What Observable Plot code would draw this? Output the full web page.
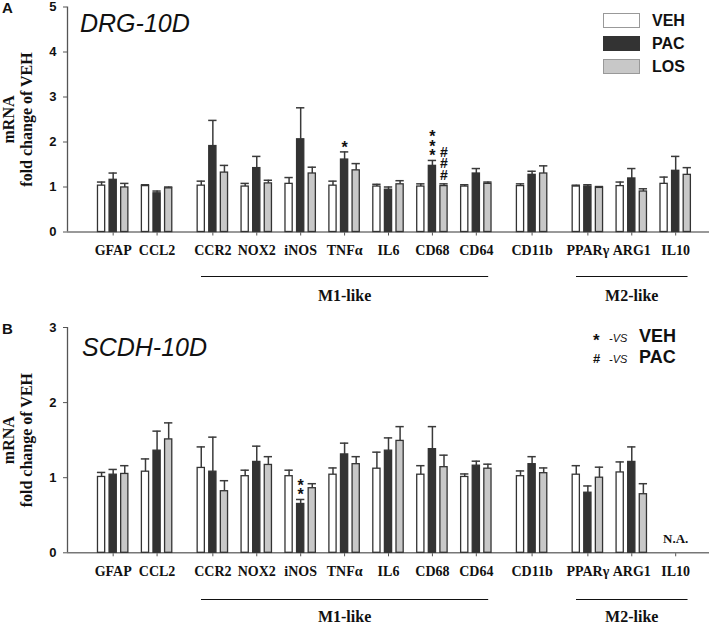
<!DOCTYPE html>
<html><head><meta charset="utf-8">
<script src="https://cdn.jsdelivr.net/npm/d3@7"></script>
<script src="https://cdn.jsdelivr.net/npm/@observablehq/plot@0.6"></script>
<style>
body{margin:0;background:#fff;}
#wrap{position:relative;width:709px;height:624px;font-family:Arial,"Liberation Sans",sans-serif;color:#111;}
#wrap svg{display:block;overflow:visible;}
.abs{position:absolute;white-space:nowrap;}
</style></head><body><div id="wrap"></div>
<script>
// ---------- data ----------
const genes = ["GFAP","CCL2","CCR2","NOX2","iNOS","TNFα","IL6","CD68","CD64","CD11b","PPARγ","ARG1","IL10"];
const geneCluster = [0,0,1,1,1,1,1,1,1,2,3,3,3];
const series = ["VEH","PAC","LOS"];
const seriesColors = ["#ffffff","#333333","#c8c8c8"];

// Panel A: DRG-10D (mean, SEM)
const drgVEH    = [1.03,1.02,1.03,1.01,1.07,1.03,1.01,1.01,1.01,1.02,1.01,1.02,1.07];
const drgVEHerr = [0.08,0.03,0.10,0.07,0.14,0.10,0.05,0.06,0.04,0.05,0.03,0.09,0.15];
const drgPAC    = [1.16,0.86,1.91,1.42,2.06,1.61,0.94,1.47,1.30,1.27,1.01,1.19,1.36];
const drgPACerr = [0.15,0.05,0.57,0.26,0.70,0.17,0.06,0.12,0.11,0.08,0.04,0.22,0.32];
const drgLOS    = [0.99,0.97,1.32,1.08,1.30,1.37,1.06,1.02,1.07,1.30,0.98,0.90,1.27];
const drgLOSerr = [0.09,0.03,0.16,0.07,0.14,0.15,0.08,0.05,0.04,0.17,0.03,0.06,0.16];

// Panel B: SCDH-10D (mean, SEM); IL10 not available
const scdhVEH    = [1.01,1.08,1.13,1.02,1.02,1.04,1.12,1.04,1.01,1.02,1.04,1.07,null];
const scdhVEHerr = [0.06,0.17,0.28,0.08,0.08,0.09,0.22,0.12,0.04,0.07,0.12,0.14,null];
const scdhPAC    = [1.04,1.36,1.08,1.21,0.65,1.31,1.36,1.38,1.16,1.18,0.80,1.21,null];
const scdhPACerr = [0.07,0.26,0.46,0.21,0.06,0.15,0.17,0.30,0.06,0.10,0.09,0.20,null];
const scdhLOS    = [1.05,1.51,0.82,1.17,0.86,1.18,1.49,1.14,1.12,1.06,1.00,0.78,null];
const scdhLOSerr = [0.11,0.22,0.14,0.11,0.06,0.10,0.19,0.16,0.06,0.07,0.14,0.14,null];

const groupsLabels = [
  {name:"M1-like", first:"CCR2", last:"CD64"},
  {name:"M2-like", first:"PPARγ", last:"IL10"}
];
const sigA = [
  {gene:"TNFα", series:"PAC", mark:"*", n:1},
  {gene:"CD68", series:"PAC", mark:"*", n:3},
  {gene:"CD68", series:"LOS", mark:"#", n:3}
];
const sigB = [
  {gene:"iNOS", series:"PAC", mark:"*", n:2}
];
const naB = ["IL10"];

// ---------- layout ----------
const clusterGap = 0.27;
const barOffset = [-0.264, 0, 0.264];
const barHalf = 0.082, capHalf = 0.095;
const xDomain = [-1.04, 13.58];
const pos = i => i + clusterGap * geneCluster[i];
const gpos = g => pos(genes.indexOf(g));
const starStep = 9.6, hashStep = 11.5;

function panel(cfg){
  const rows = [];
  genes.forEach((g,i)=>{
    series.forEach((s,k)=>{
      const m = cfg.means[k][i];
      if (m == null) return;
      rows.push({gene:g, s, x: pos(i)+barOffset[k], mean:m, top:m+cfg.errs[k][i]});
    });
  });
  const topOf = (g,s) => rows.find(r=>r.gene===g && r.s===s);
  const sigRows = [];
  cfg.sig.forEach(d=>{
    const r = topOf(d.gene,d.series);
    for (let j=0;j<d.n;j++) sigRows.push({x:r.x, y:r.top, mark:d.mark, j});
  });
  const ticksX = genes.map((g,i)=>pos(i));
  const labelOf = new Map(genes.map((g,i)=>[pos(i), g]));
  const stars = sigRows.filter(d=>d.mark==="*");
  const hashes = sigRows.filter(d=>d.mark==="#");
  return Plot.plot({
    width:709, height:cfg.height, marginLeft:67, marginRight:0, marginTop:cfg.mt, marginBottom:cfg.mb,
    x:{type:"linear", domain:xDomain},
    y:{domain:[0,cfg.yMax]},
    color:{domain:series, range:seriesColors},
    style:{fontFamily:"Arial, 'Liberation Sans', sans-serif", color:"#111", background:"transparent", overflow:"visible"},
    marks:[
      Plot.axisY({ticks:d3.range(cfg.yMax+1), tickFormat:"d", tickSize:4, tickPadding:7, fontSize:13, fontWeight:"bold", label:null, stroke:"#555"}),
      Plot.axisX({ticks:ticksX, tickFormat:d=>labelOf.get(d), tickSize:4, tickPadding:9, fontSize:14, fontWeight:"bold", fontFamily:"'Liberation Serif', serif", label:null, stroke:"#555"}),
      Plot.ruleX([xDomain[0]], {stroke:"#555", strokeWidth:1.3}),
      Plot.ruleY([0], {stroke:"#777", strokeWidth:1.5}),
      Plot.ruleX(rows, {x:"x", y1:"mean", y2:"top", stroke:"#3a3a3a", strokeWidth:1.5}),
      Plot.ruleY(rows, {y:"top", x1:d=>d.x-capHalf, x2:d=>d.x+capHalf, stroke:"#3a3a3a", strokeWidth:1.5}),
      Plot.rect(rows, {x1:d=>d.x-barHalf, x2:d=>d.x+barHalf, y1:0, y2:"mean", fill:"s", stroke:"#333", strokeWidth:1.3}),
      ...stars.map(d=>Plot.text([d], {x:"x", y:"y", text:"mark", lineAnchor:"bottom", dy:1 - d.j*starStep, fontSize:16, fontWeight:"bold", fill:"#111"})),
      ...hashes.map(d=>Plot.text([d], {x:"x", y:"y", text:"mark", lineAnchor:"bottom", dy:-4 - d.j*hashStep, fontSize:14, fontWeight:"bold", fill:"#111"})),
      Plot.text(cfg.na, {x:d=>gpos(d), y:0, text:()=>"N.A.", dy:-14, fontSize:13, fontWeight:"bold", fontFamily:"'Liberation Serif', serif", fill:"#111"}),
      Plot.link(groupsLabels, {x1:d=>gpos(d.first)-0.27, x2:d=>gpos(d.last)+0.27, y1:0, y2:0, dy:cfg.lineDy, stroke:"#111", strokeWidth:1.2}),
      Plot.text(groupsLabels, {x:d=>(gpos(d.first)+gpos(d.last))/2, frameAnchor:"bottom", lineAnchor:"middle", text:"name", dy:cfg.labelDy, fontSize:16, fontWeight:"bold", fontFamily:"'Liberation Serif', serif", fill:"#111"}),
      Plot.text(["mRNA\nfold change of VEH"], {text:d=>d, frameAnchor:"left", textAnchor:"middle", lineAnchor:"middle", rotate:-90, dx:-50, fontSize:16, fontWeight:"bold", fontFamily:"'Liberation Serif', serif", lineHeight:1.1, fill:"#111"})
    ]
  });
}

const wrap = document.getElementById("wrap");
wrap.appendChild(panel({
  means:[drgVEH,drgPAC,drgLOS], errs:[drgVEHerr,drgPACerr,drgLOSerr],
  yMax:5, height:303, mt:6.5, mb:71.5, sig:sigA, na:[], lineDy:44.5, labelDy:63.5
}));
wrap.appendChild(panel({
  means:[scdhVEH,scdhPAC,scdhLOS], errs:[scdhVEHerr,scdhPACerr,scdhLOSerr],
  yMax:3, height:321, mt:24, mb:71.7, sig:sigB, na:naB, lineDy:46.7, labelDy:64.4
}));

// ---------- overlays: panel letters, titles, legends ----------
function place(txt, left, baseline, fs, css){
  const d = document.createElement("div");
  d.className = "abs";
  d.textContent = txt;
  d.style.left = left + "px";
  d.style.fontSize = fs + "px";
  d.style.lineHeight = fs + "px";
  d.style.top = (baseline - 0.8465*fs) + "px";
  Object.assign(d.style, css || {});
  wrap.appendChild(d);
  return d;
}
place("A", 2, 13, 15, {fontWeight:"bold"});
place("B", 2, 334, 15, {fontWeight:"bold"});
place("DRG-10D", 80, 31.7, 25, {fontStyle:"italic"});
place("SCDH-10D", 82, 356, 25, {fontStyle:"italic"});

const legendBorders = ["#999","#333","#999"];
series.forEach((s,k)=>{
  const top = 13 + k*23.2;
  const b = document.createElement("div");
  b.className = "abs";
  Object.assign(b.style, {left:"603px", top:top+"px", width:"35px", height:"13px", background:seriesColors[k], border:"1px solid "+legendBorders[k]});
  wrap.appendChild(b);
  place(s, 652, top + 7.5 + 5.8, 16, {fontWeight:"bold"});
});

const sigLegend = [{sym:"*", vs:"VEH", fs:17, base:346},{sym:"#", vs:"PAC", fs:13, base:363}];
sigLegend.forEach((d,k)=>{
  const base = 342.7 + k*20.3;
  place(d.sym, 593, d.base, d.fs, {fontWeight:"bold"});
  place("-VS", 609, base, 11, {fontStyle:"italic"});
  place(d.vs, 639, base, 18, {fontWeight:"bold"});
});
</script></body></html>
